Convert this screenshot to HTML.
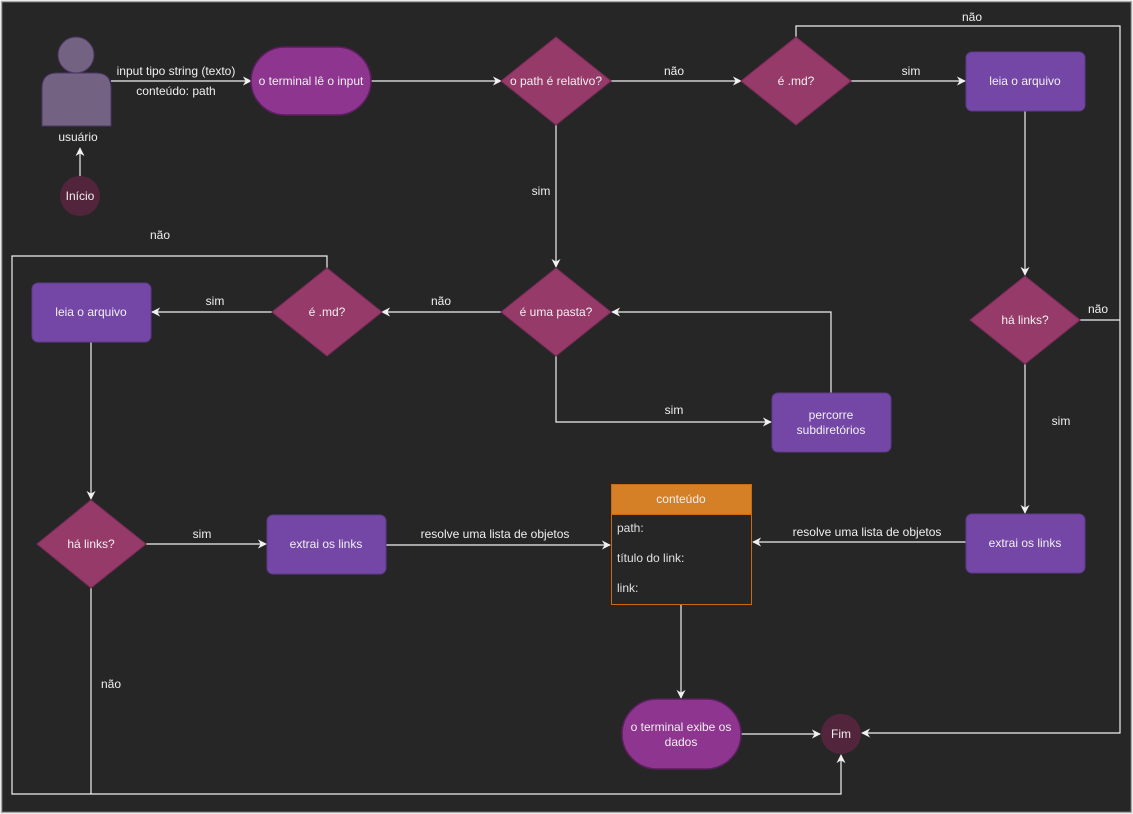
<!DOCTYPE html>
<html><head><meta charset="utf-8"><style>
html,body{margin:0;padding:0;background:#fff}
svg{display:block;font-family:"Liberation Sans",Arial,sans-serif}
</style></head><body>
<svg width="1133" height="814" viewBox="0 0 1133 814" xmlns="http://www.w3.org/2000/svg">
<defs>
<marker id="a" viewBox="0 0 10 10" refX="9" refY="5" markerWidth="9" markerHeight="9" orient="auto" markerUnits="userSpaceOnUse">
<path d="M0,0 L10,5 L0,10 L3,5 z" fill="#f0f0f0"/></marker>
</defs>
<rect x="0" y="0" width="1133" height="814" fill="#fff"/>
<rect x="1.5" y="1.5" width="1130" height="811" fill="#262626" stroke="#aaa" stroke-width="1.5"/>
<g stroke="#f0f0f0" stroke-width="1.2" fill="none">
<line x1="80" y1="176" x2="80" y2="148" marker-end="url(#a)"/>
<line x1="111" y1="81" x2="251" y2="81" marker-end="url(#a)"/>
<line x1="371" y1="81" x2="501" y2="81" marker-end="url(#a)"/>
<line x1="611" y1="81" x2="741" y2="81" marker-end="url(#a)"/>
<line x1="851" y1="81" x2="965" y2="81" marker-end="url(#a)"/>
<line x1="1025" y1="111" x2="1025" y2="275" marker-end="url(#a)"/>
<polyline points="796,37 796,26 1120,26 1120,733 862,733" marker-end="url(#a)"/>
<line x1="1080" y1="320" x2="1120" y2="320"/>
<line x1="1025" y1="364" x2="1025" y2="513" marker-end="url(#a)"/>
<line x1="966" y1="542" x2="753" y2="542" marker-end="url(#a)"/>
<line x1="556" y1="125" x2="556" y2="267" marker-end="url(#a)"/>
<polyline points="556,356 556,422 771,422" marker-end="url(#a)"/>
<polyline points="831,393 831,312 612,312" marker-end="url(#a)"/>
<line x1="501" y1="312" x2="382" y2="312" marker-end="url(#a)"/>
<line x1="272" y1="312" x2="152" y2="312" marker-end="url(#a)"/>
<line x1="91" y1="342" x2="91" y2="499" marker-end="url(#a)"/>
<line x1="146" y1="544" x2="266" y2="544" marker-end="url(#a)"/>
<line x1="386" y1="545" x2="610" y2="545" marker-end="url(#a)"/>
<polyline points="327,268 327,256 12,256 12,794 841,794 841,755" marker-end="url(#a)"/>
<line x1="91" y1="588" x2="91" y2="794"/>
<line x1="681" y1="604" x2="681" y2="698" marker-end="url(#a)"/>
<line x1="741" y1="734" x2="820" y2="734" marker-end="url(#a)"/>
</g>
<!-- user -->
<circle cx="76" cy="55" r="18" fill="#736282" stroke="#4a3566"/>
<path d="M42,126 L42,88 Q42,73 57,73 L96,73 Q111,73 111,88 L111,126 Z" fill="#736282" stroke="#4a3566"/>
<circle cx="80" cy="196" r="20" fill="#52253d"/>
<rect x="251" y="47" width="120" height="68" rx="34" fill="#8e3590" stroke="#5a1f5c" stroke-width="1.5"/>
<rect x="622" y="699" width="119" height="70" rx="35" fill="#8e3590" stroke="#5a1f5c" stroke-width="1.5"/>
<circle cx="841" cy="734" r="20" fill="#52253d"/>
<g fill="#963a6a" stroke="#7a2c55">
<polygon points="556,37 611,81 556,125 501,81"/>
<polygon points="796,37 851,81 796,125 741,81"/>
<polygon points="1025,276 1080,320 1025,364 970,320"/>
<polygon points="556,268 611,312 556,356 501,312"/>
<polygon points="327,268 382,312 327,356 272,312"/>
<polygon points="91,500 146,544 91,588 37,544"/>
</g>
<g fill="#7447a6" stroke="#5d3a8a">
<rect x="966" y="52" width="119" height="59" rx="6"/>
<rect x="966" y="514" width="119" height="59" rx="6"/>
<rect x="772" y="393" width="119" height="59" rx="6"/>
<rect x="32" y="283" width="119" height="59" rx="6"/>
<rect x="267" y="515" width="119" height="59" rx="6"/>
</g>
<rect x="611.5" y="484.5" width="140" height="120" fill="#262626" stroke="#c96b12"/>
<rect x="611.5" y="484.5" width="140" height="30" fill="#d57f27" stroke="#c96b12"/>
<g fill="#f0f0f0" font-size="12" text-anchor="middle">
<text x="78" y="141">usuário</text>
<text x="80" y="200">Início</text>
<text x="176" y="75">input tipo string (texto)</text>
<text x="176" y="95">conteúdo: path</text>
<text x="311" y="85">o terminal lê o input</text>
<text x="556" y="85">o path é relativo?</text>
<text x="674" y="75">não</text>
<text x="796" y="85">é .md?</text>
<text x="911" y="75">sim</text>
<text x="1025" y="85">leia o arquivo</text>
<text x="972" y="21">não</text>
<text x="1025" y="324">há links?</text>
<text x="1098" y="313">não</text>
<text x="1061" y="425">sim</text>
<text x="1025" y="547">extrai os links</text>
<text x="867" y="536">resolve uma lista de objetos</text>
<text x="541" y="195">sim</text>
<text x="556" y="316">é uma pasta?</text>
<text x="674" y="414">sim</text>
<text x="831" y="419">percorre</text>
<text x="831" y="434">subdiretórios</text>
<text x="441" y="305">não</text>
<text x="327" y="316">é .md?</text>
<text x="215" y="305">sim</text>
<text x="91" y="316">leia o arquivo</text>
<text x="160" y="239">não</text>
<text x="91" y="548">há links?</text>
<text x="202" y="538">sim</text>
<text x="326" y="548">extrai os links</text>
<text x="495" y="538">resolve uma lista de objetos</text>
<text x="111" y="688">não</text>
<text x="681" y="503">conteúdo</text>
<text x="681" y="731">o terminal exibe os</text>
<text x="681" y="746">dados</text>
<text x="841" y="738">Fim</text>
</g>
<g fill="#e0e0e0" font-size="12">
<text x="617" y="532">path:</text>
<text x="617" y="562">título do link:</text>
<text x="617" y="592">link:</text>
</g>
</svg>
</body></html>
